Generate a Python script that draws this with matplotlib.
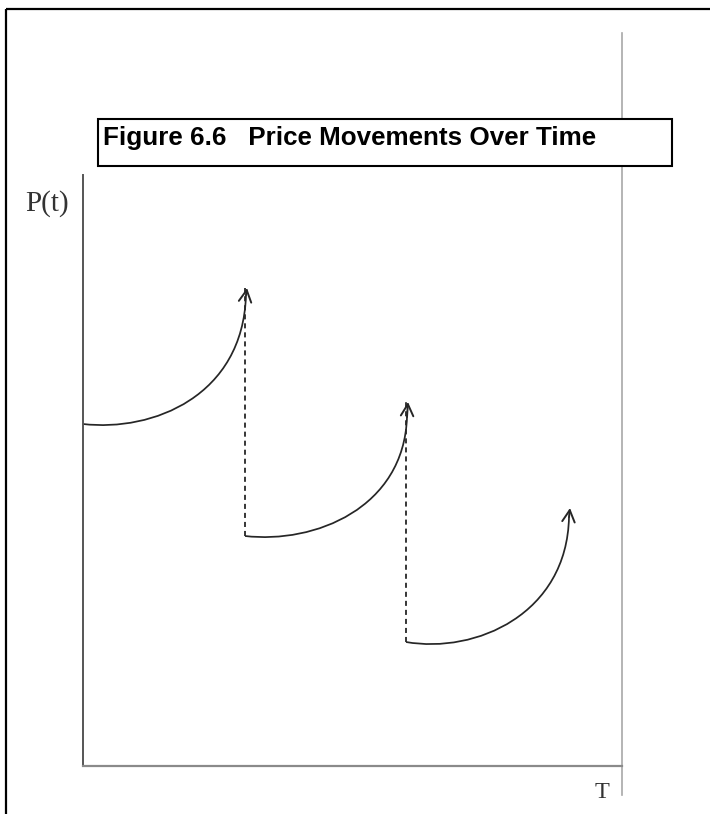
import numpy as np
import matplotlib.pyplot as plt
from matplotlib.patches import Rectangle, PathPatch
from matplotlib.path import Path

# -----------------------------
# Data (chart units: time to the right, price upwards)
# each rising segment is a cubic curve: start, two control points, end
# -----------------------------
seg1_t = [0, 70, 160, 163]
seg1_p = [342, 334, 370, 471]
seg1_tip = (164, 478)

seg2_t = [162, 232, 321, 324]
seg2_p = [230, 222, 258, 349]
seg2_tip = (325, 364)

seg3_t = [323, 393, 484, 486]
seg3_p = [124, 112, 152, 249]
seg3_tip = (487, 258)

# price drops (dashed): time, from, to
drop_t = [162, 323]
drop_top = [478, 364]
drop_bottom = [230, 124]

title = "Figure 6.6   Price Movements Over Time"
y_label = "P(t)"
x_label = "T"

W, H = 710, 814
fig = plt.figure(figsize=(W / 100, H / 100), dpi=100)

# background axes in pixel units for the frame and labels
bg = fig.add_axes([0, 0, 1, 1])
bg.set_xlim(0, W)
bg.set_ylim(H, 0)
bg.axis("off")

# outer frame (runs off the right and bottom edge)
bg.add_patch(Rectangle((5.7, 9.3), 760, 850, fill=False, ec="black", lw=1.6, zorder=1))

# light vertical rule at the right
bg.plot([622, 622], [33, 795], color="#a8a8a8", lw=1.2, zorder=1)

# title box
bg.add_patch(Rectangle((98, 119), 574, 47, fc="white", ec="black", lw=1.5, zorder=3))
bg.text(103, 145, title, family="Liberation Sans", fontweight="bold", fontsize=18.7,
        ha="left", va="baseline", zorder=4)

bg.text(47, 211, y_label, family="Liberation Serif", fontsize=21, color="#333333",
        ha="center", va="baseline")
t_txt = bg.text(602, 798, x_label, family="Liberation Serif", fontsize=17.5, color="#333333",
                ha="center", va="baseline")
t_txt.set_clip_path(Rectangle((0, 0), W, 795, transform=bg.transData))

# chart axes
ax = fig.add_axes([83 / W, (H - 766) / H, (622 - 83) / W, (766 - 175) / H])
ax.set_xlim(0, 539)
ax.set_ylim(0, 591)
ax.patch.set_alpha(0)
ax.set_xticks([])
ax.set_yticks([])
for s in ["top", "right"]:
    ax.spines[s].set_visible(False)
ax.spines["left"].set_color("#555555")
ax.spines["left"].set_linewidth(1.4)
ax.spines["bottom"].set_color("#8a8a8a")
ax.spines["bottom"].set_linewidth(1.6)

curve_color = "#262626"
codes = [Path.MOVETO, Path.CURVE4, Path.CURVE4, Path.CURVE4]
for t, p, tip in [(seg1_t, seg1_p, seg1_tip), (seg2_t, seg2_p, seg2_tip), (seg3_t, seg3_p, seg3_tip)]:
    path = Path(np.column_stack([t, p]), codes)
    ax.add_patch(PathPatch(path, fill=False, ec=curve_color, lw=1.25, capstyle="butt"))
    ax.annotate("", xy=tip, xytext=(t[-1], p[-1]),
                arrowprops=dict(arrowstyle="->,head_length=0.85,head_width=0.45",
                                color=curve_color, lw=1.4, shrinkA=0, shrinkB=0))

for t, top, bot in zip(drop_t, drop_top, drop_bottom):
    ax.plot([t, t], [bot, top], color=curve_color, lw=1.3, linestyle=(0, (2.8, 2.2)))

fig.savefig("out.png", dpi=100)
